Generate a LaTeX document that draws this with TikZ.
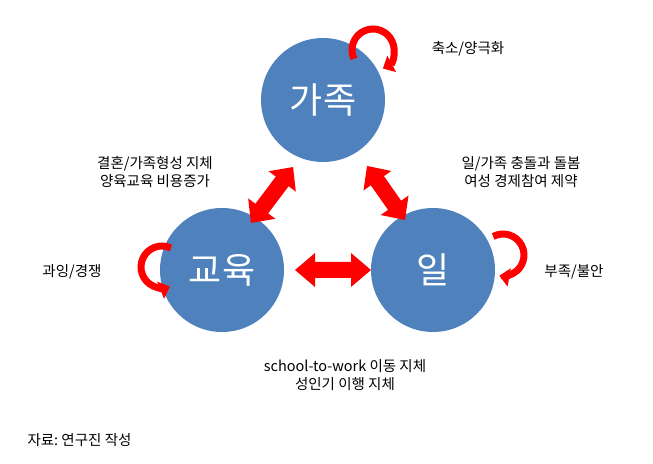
\documentclass[tikz,border=0pt]{standalone}
\usepackage{fontspec}
\setmainfont{Noto Sans CJK KR}
\usetikzlibrary{arrows.meta}
\definecolor{cblue}{HTML}{4F81BD}
\newcommand{\mydblarr}[4]{%
  \begin{scope}[shift={(#1)},rotate=#2]
  \fill[red] (-#3,0)--(-#3+#4,17)--(-#3+#4,8)--(#3-#4,8)--(#3-#4,17)--(#3,0)--(#3-#4,-17)--(#3-#4,-8)--(-#3+#4,-8)--(-#3+#4,-17)--cycle;
  \end{scope}}
\begin{document}
\begin{tikzpicture}[x=1pt,y=1pt,
  circ/.style={circle,fill=cblue,minimum size=124pt,inner sep=0pt,text=white,font=\fontsize{36}{40}\selectfont},
  loop/.style={red,line width=7pt,-{Triangle[length=10pt,width=18pt]}},
  lbl/.style={font=\fontsize{14.5}{18}\selectfont,align=center}]
\useasboundingbox (0,0) rectangle (653,463);
\node[circ] (fam) at (323,363) {가족};
\node[circ] (edu) at (222,193) {교육};
\node[circ] (work) at (433,193) {일};
\coordinate (c1) at (333,193);
\coordinate (c2) at (272,268);
\coordinate (c3) at (386,270);
\mydblarr{c1}{0}{38}{20}
\mydblarr{c2}{53}{35}{18}
\mydblarr{c3}{-55}{33}{18}
\draw[loop] (373,413) ++(205:21) coordinate (s1) arc[start angle=205,end angle=-62,radius=21];
\draw[loop] (162,196) ++(65:21) coordinate (s2) arc[start angle=65,end angle=292,radius=21];
\draw[loop] (503,208) ++(118:21) coordinate (s3) arc[start angle=118,end angle=-100,radius=21];
\node[lbl] (t1) at (468,414) {축소/양극화};
\node[lbl] (t2) at (155,291) {결혼/가족형성 지체\\양육교육 비용증가};
\node[lbl] (t3) at (521,291) {일/가족 충돌과 돌봄\\여성 경제참여 제약};
\node[lbl] (t4) at (72,191) {과잉/경쟁};
\node[lbl] (t5) at (574,191) {부족/불안};
\node[lbl] (t6) at (345,88) {school-to-work 이동 지체\\성인기 이행 지체};
\node[lbl,anchor=west] (t7) at (24,23) {자료:\ 연구진 작성};
\end{tikzpicture}
\end{document}
